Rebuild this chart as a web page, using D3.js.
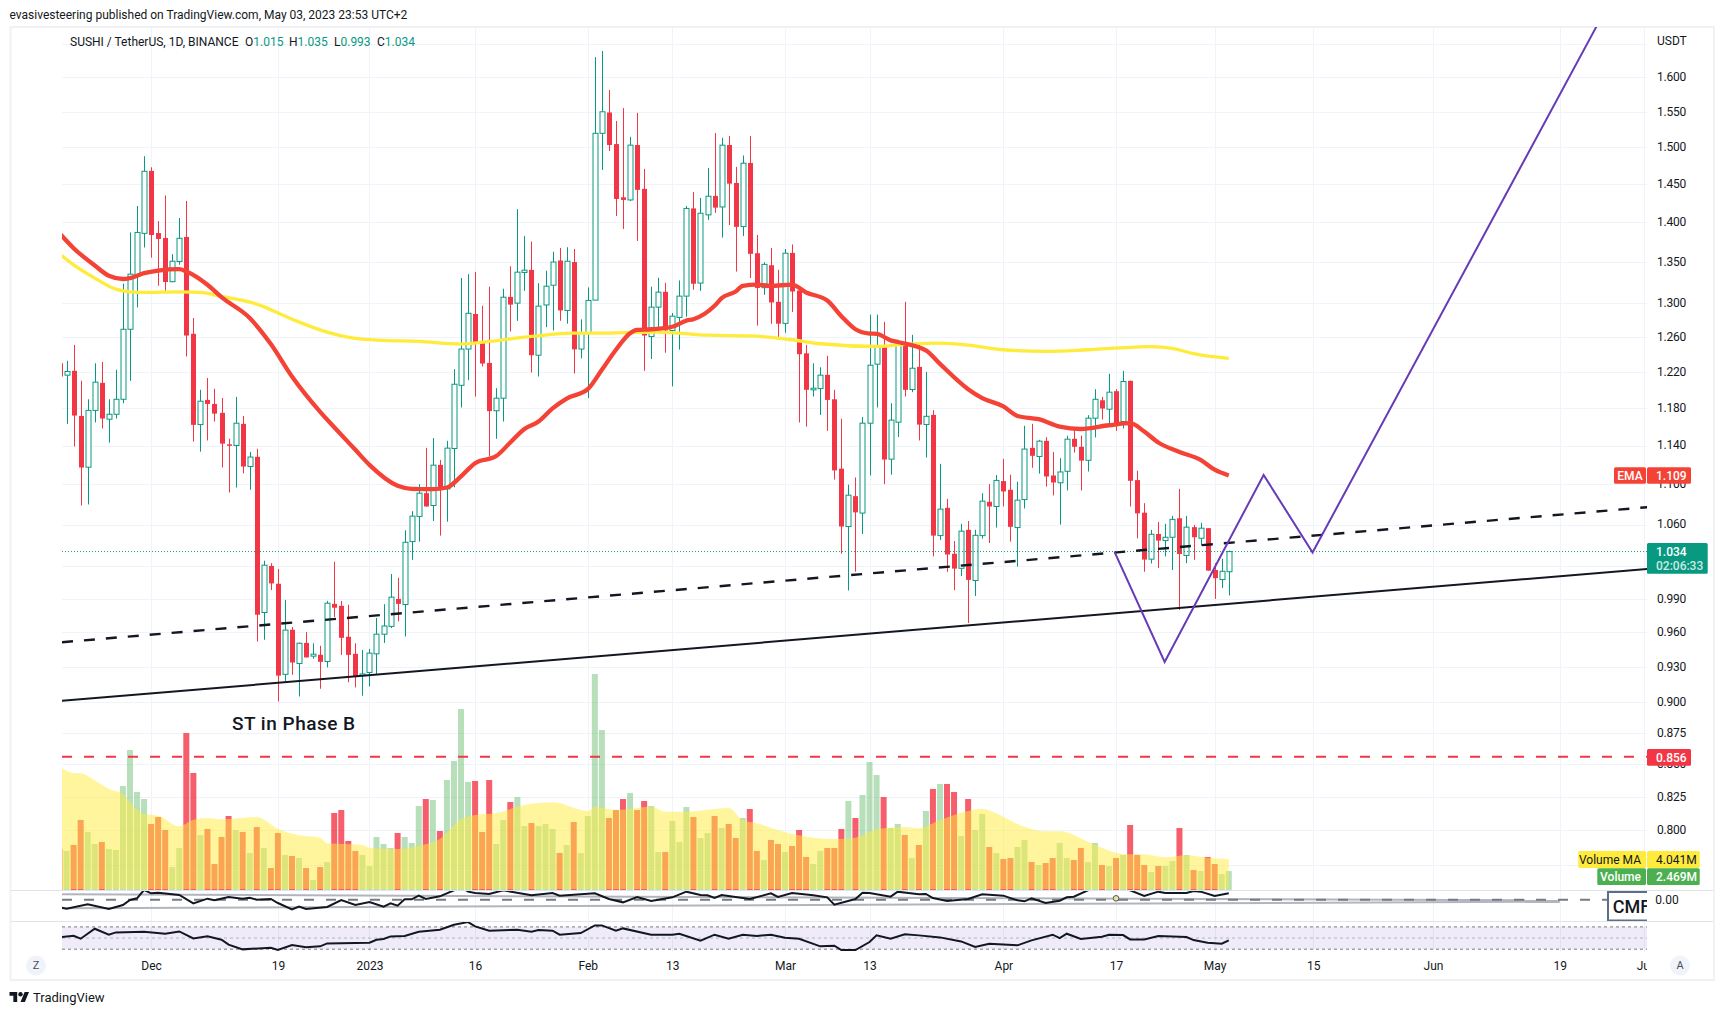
<!DOCTYPE html>
<html><head><meta charset="utf-8">
<script src="https://cdnjs.cloudflare.com/ajax/libs/d3/7.8.5/d3.min.js"></script>
<style>html,body{margin:0;padding:0;background:#fff}svg{display:block}text{font-family:Roboto,sans-serif}</style>
</head><body><svg id="c" width="1723" height="1015"></svg>
<script>
// ---- values (first candle is 13 days before 1 Dec 2022) ----
const firstDay=-13;
const opens=[1.2297,1.2163,1.2212,1.1715,1.1175,1.1775,1.2077,1.1680,1.1733,1.1896,
1.2688,1.3340,1.3859,1.4679,1.3863,1.3800,1.3256,1.3504,1.3813,1.2635,
1.1622,1.1889,1.1845,1.1748,1.1413,1.1400,1.1630,1.1182,1.1283,0.9776,
1.0204,1.0038,0.9235,0.9622,0.9328,0.9506,0.9391,0.9403,0.9345,0.9854,
0.9836,0.9560,0.9411,0.9227,0.9251,0.9411,0.9583,0.9652,0.9899,0.9848,
1.0435,1.0680,1.0911,1.0788,1.1199,1.0954,1.1369,1.2050,1.2459,1.2868,
1.2544,1.2301,1.1771,1.1908,1.3072,1.2997,1.3369,1.3401,1.2388,1.2975,
1.3213,1.3517,1.2910,1.3498,1.2459,1.2642,1.3033,1.5196,1.5490,1.5046,
1.4327,1.4292,1.5033,1.4438,1.2603,1.2949,1.3133,1.2674,1.2827,1.3081,
1.4181,1.3239,1.4097,1.4345,1.4200,1.5033,1.4517,1.3946,1.4787,1.3608,
1.3183,1.3458,1.3013,1.2757,1.3612,1.3149,1.2410,1.2000,1.2014,1.2167,
1.1896,1.1160,1.0581,1.0881,1.0713,1.1637,1.2287,1.2478,1.1258,1.1648,
1.2527,1.2004,1.2256,1.1622,1.1726,1.0493,1.0765,1.0319,1.0182,1.0549,
1.0068,1.0493,1.0825,1.0778,1.1033,1.0945,1.0571,1.0847,1.1376,1.1286,
1.1449,1.1090,1.1016,1.1133,1.1471,1.1387,1.1246,1.1691,1.1885,1.1788,
1.1985,1.1655,1.2100,1.1043,1.0717,1.0268,1.0509,1.0445,1.0477,1.0662,
1.0303,1.0575,1.0467,1.0565,1.0166,1.0077,1.015];
const highs=[1.2297,1.2325,1.2507,1.2100,1.1896,1.2297,1.2312,1.1896,1.2223,1.3232,
1.3871,1.4213,1.4879,1.4728,1.4017,1.4351,1.3596,1.4056,1.4279,1.2820,
1.2000,1.2132,1.2011,1.1911,1.1471,1.1922,1.1715,1.1333,1.1366,1.0253,
1.0230,1.0176,0.9890,0.9646,0.9509,0.9601,0.9503,0.9481,0.9881,1.0243,
0.9881,0.9846,0.9503,0.9445,0.9453,0.9727,0.9851,1.0128,1.0093,1.0545,
1.0732,1.1002,1.1376,1.1478,1.1250,1.1449,1.2230,1.3302,1.3348,1.3376,
1.2965,1.3195,1.2018,1.3170,1.3446,1.4171,1.3824,1.3755,1.3237,1.3390,
1.3627,1.3674,1.3683,1.3661,1.2804,1.3187,1.6300,1.6392,1.5813,1.5370,
1.5553,1.5147,1.5485,1.4706,1.3195,1.3303,1.3241,1.2880,1.3271,1.4213,
1.4398,1.4318,1.4719,1.5200,1.5133,1.5158,1.4733,1.4889,1.5158,1.3838,
1.3495,1.3674,1.3401,1.3661,1.3718,1.3149,1.2507,1.2297,1.2252,1.2382,
1.2000,1.1684,1.0997,1.1070,1.1704,1.2860,1.2860,1.2775,1.1853,1.2566,
1.3012,1.2623,1.2527,1.2200,1.1778,1.1210,1.0854,1.0441,1.0608,1.0635,
1.0549,1.0911,1.1002,1.1095,1.1261,1.1098,1.1026,1.1609,1.1630,1.1460,
1.1489,1.1333,1.1268,1.1503,1.1565,1.1505,1.1723,1.2007,1.1922,1.2178,
1.2007,1.2212,1.2100,1.1138,1.0811,1.0549,1.0625,1.0608,1.0685,1.0954,
1.0685,1.0597,1.0618,1.0565,1.0230,1.0272,1.035];
const lows=[1.2148,1.1630,1.1390,1.0789,1.0798,1.1645,1.1580,1.1431,1.1687,1.1853,
1.2100,1.2945,1.3680,1.3552,1.3206,1.3145,1.3250,1.3464,1.2374,1.1442,
1.1336,1.1453,1.1655,1.1172,1.0918,1.0968,1.1112,1.0945,0.9519,0.9534,
0.9980,0.9007,0.9176,0.9232,0.9049,0.9380,0.9369,0.9113,0.9294,0.9736,
0.9402,0.9168,0.9124,0.9055,0.9133,0.9232,0.9506,0.9637,0.9697,0.9563,
1.0262,1.0435,1.0778,1.0635,1.0493,1.0628,1.0970,1.1806,1.2107,1.1926,
1.2260,1.1286,1.1471,1.1655,1.2662,1.2787,1.3145,1.2193,1.2148,1.2712,
1.2674,1.2787,1.2753,1.2182,1.2352,1.1908,1.3033,1.4692,1.4950,1.4083,
1.3915,1.4279,1.3762,1.2212,1.2345,1.2674,1.2417,1.2038,1.2452,1.2835,
1.3158,1.3145,1.4032,1.4122,1.3805,1.3965,1.3380,1.3824,1.3302,1.2730,
1.3097,1.2753,1.2590,1.2647,1.2892,1.1645,1.1600,1.1926,1.1726,1.1555,
1.1048,1.0319,0.9976,1.0150,1.0509,1.1090,1.1806,1.1002,1.1098,1.1489,
1.1926,1.1974,1.1453,1.1276,1.0294,1.0451,1.0150,0.9980,1.0110,0.9682,
0.9926,1.0464,1.0422,1.0571,1.0778,1.0435,1.0198,1.0758,1.1169,1.1109,
1.0977,1.0888,1.0600,1.0938,1.1326,1.0938,1.1131,1.1485,1.1676,1.1619,
1.1555,1.1580,1.0778,1.0467,1.0150,1.0227,1.0185,1.0294,1.0166,0.9798,
1.0230,1.0262,1.0396,1.0160,0.9899,0.9999,0.993];
const closes=[1.2148,1.2204,1.1719,1.1172,1.1775,1.2085,1.1687,1.1733,1.1896,1.2688,
1.3348,1.3871,1.4674,1.3838,1.3788,1.3252,1.3508,1.3796,1.2615,1.1619,
1.1875,1.1845,1.1740,1.1420,1.1400,1.1637,1.1182,1.1280,0.9756,1.0211,
1.0041,0.9224,0.9619,0.9336,0.9503,0.9380,0.9408,0.9342,0.9860,0.9819,
0.9551,0.9402,0.9218,0.9238,0.9417,0.9583,0.9655,0.9915,0.9854,1.0429,
1.0683,1.0911,1.0778,1.1196,1.0954,1.1373,1.2062,1.2459,1.2876,1.2527,
1.2294,1.1767,1.1908,1.3068,1.2979,1.3373,1.3397,1.2388,1.2961,1.3201,
1.3498,1.2910,1.3508,1.2455,1.2642,1.3029,1.5196,1.5500,1.5033,1.4305,
1.4292,1.5031,1.4425,1.2615,1.2949,1.3129,1.2674,1.2842,1.3081,1.4181,
1.3231,1.4118,1.4341,1.4191,1.5031,1.4508,1.3942,1.4783,1.3600,1.3180,
1.3469,1.3005,1.2753,1.3608,1.3137,1.2400,1.2000,1.2018,1.2163,1.1889,
1.1142,1.0581,1.0891,1.0720,1.1637,1.2275,1.2486,1.1254,1.1670,1.2527,
1.2000,1.2241,1.1622,1.1711,1.0493,1.0752,1.0312,1.0179,1.0536,1.0074,
1.0496,1.0831,1.0778,1.1040,1.0928,1.0578,1.0841,1.1363,1.1293,1.1446,
1.1080,1.1019,1.1126,1.1467,1.1387,1.1243,1.1691,1.1896,1.1795,1.1974,
1.1608,1.2092,1.1036,1.0710,1.0264,1.0506,1.0445,1.0477,1.0651,1.0316,
1.0575,1.0477,1.0565,1.0160,1.0090,1.0154,1.034];
const volumes=[5.34,5.08,5.86,9.11,7.55,5.99,6.25,5.34,5.21,13.54,
18.22,12.76,11.84,8.59,9.5,7.81,2.99,5.47,20.43,15.23,
7.16,7.94,3.38,6.9,9.63,7.81,7.55,4.82,8.2,5.47,
2.86,7.42,4.56,4.43,4.16,2.86,1.3,2.99,3.64,10.02,
10.41,6.38,5.08,4.56,3.12,6.9,5.99,5.47,7.42,6.9,
6.12,10.93,11.84,11.71,7.68,14.32,16.79,23.56,14.06,14.19,
7.55,14.32,5.99,9.11,11.45,12.1,8.33,8.72,8.33,8.59,
7.94,4.82,5.86,8.85,4.82,9.63,28.11,20.82,9.37,10.41,
11.84,12.62,10.41,11.58,10.93,4.95,4.95,8.98,6.25,10.8,
9.5,6.77,7.42,9.63,8.07,8.59,6.77,9.37,10.54,5.08,
3.9,6.51,5.99,4.95,5.73,7.81,4.3,3.38,5.08,5.47,
5.47,7.94,11.58,9.37,12.36,16.66,14.97,12.1,8.07,8.59,
7.16,4.16,5.86,10.28,13.15,13.8,13.8,12.76,7.03,11.84,
7.81,9.89,5.6,4.82,4.03,4.16,5.6,6.51,3.64,3.25,
3.51,4.16,6.12,4.16,3.9,5.47,3.64,6.12,3.25,3.12,
4.16,4.56,8.46,4.56,3.25,2.34,3.12,3.12,3.77,8.07,
4.56,2.6,2.47,4.3,3.38,2.08,2.469];
const emaDays=[-13,-11,-8,-6,-4,-3,-1,1,4,5,8,10,14,17,20,24,26,29,31,35,37,40,42,44,46,49,51,53,55,57,59,62,64,66,68,69,71,74,76,77,80,81,83,84,86,88,91,93,96,98,100,102,103,105,106,110,112,116,118,121,123,126,129,132,136,139,141,143,146,149,151,153];
const emaValues=[1.3859,1.3671,1.3455,1.3328,1.3289,1.3300,1.3360,1.3393,1.3410,1.3381,1.3219,1.3068,1.2820,1.2516,1.2148,1.1759,1.1594,1.1355,1.1199,1.0986,1.0955,1.0951,1.0968,1.1081,1.1216,1.1290,1.1432,1.1575,1.1655,1.1797,1.1904,1.2007,1.2223,1.2451,1.2642,1.2681,1.2688,1.2717,1.2790,1.2806,1.2965,1.3056,1.3137,1.3206,1.3219,1.3206,1.3219,1.3125,1.3029,1.2842,1.2688,1.2638,1.2635,1.2559,1.2540,1.2444,1.2290,1.2007,1.1908,1.1818,1.1715,1.1680,1.1600,1.1575,1.1615,1.1637,1.1548,1.1432,1.1333,1.1250,1.1149,1.109];
const smaDays=[-13,-11,-8,-5,-3,-1,4,7,10,15,20,25,29,33,38,44,48,54,60,63,72,75,79,85,91,95,103,107,112,116,121,127,133,139,142,145,148,153];
const smaValues=[1.3600,1.3463,1.3300,1.3165,1.3133,1.3125,1.3133,1.3125,1.3077,1.2985,1.2806,1.2654,1.2581,1.2559,1.2547,1.2516,1.2547,1.2604,1.2642,1.2642,1.2654,1.2642,1.2619,1.2611,1.2566,1.2520,1.2489,1.2512,1.2527,1.2505,1.2451,1.2432,1.2451,1.2478,1.2486,1.2467,1.2406,1.2352];
const volMaDays=[-13,-11,-10,-8,-6,-4,-3,-1,1,4,6,8,10,15,18,21,24,25,30,31,35,38,41,44,46,49,53,57,62,63,66,71,73,76,82,84,86,91,97,100,103,107,109,112,116,118,120,123,127,129,133,137,139,141,144,147,150,153];
const volMaValues=[16.05,15.23,15.18,14.27,13.15,12.54,11.41,9.89,9.67,8.29,9.15,9.37,9.2,9.5,7.98,7.12,6.81,6.07,5.86,5.51,5.34,5.77,6.64,9.2,9.76,10.02,11.06,11.41,10.28,10.85,10.41,10.85,10.2,10.2,10.67,9.11,8.68,7.29,6.64,6.81,7.9,8.2,8.03,9.11,10.28,10.59,9.98,8.59,7.64,7.64,6.29,4.86,4.64,4.64,4.25,4.51,4.21,4.041];
const cmfDays=[-13,-12,-9,-6,-4,-3,-2,-1,0,1,4,6,8,9,11,13,14,15,17,18,20,21,22,25,27,29,31,33,34,35,36,37,38,39,41,43,44,45,46,48,50,54,57,58,62,63,65,67,69,71,74,76,78,79,80,81,85,88,89,91,94,96,97,100,101,102,105,106,109,110,111,113,116,118,121,123,124,125,127,129,130,131,133,136,139,141,143,144,147,148,149,151,153];
const cmfValues=[-.115,-.135,-.07,-.14,-.08,-.005,.02,.145,.095,.105,.07,-.055,.015,-.01,.04,.015,.03,0,.01,-.05,-.145,-.105,-.14,-.11,-.005,-.08,-.035,-.105,-.055,-.09,.005,.005,.06,.01,.05,.14,.195,.12,.10,.085,.14,.065,.10,.06,.09,.095,.01,-.04,.04,-.02,.035,.12,.07,.065,.025,.07,.01,.095,.04,.10,.065,.035,-.075,.01,.105,.10,.045,.12,.08,.085,.025,-.02,.01,.08,.06,-.01,-.025,.02,-.05,-.015,.035,.045,.14,.245,.14,.055,.12,.10,.10,.13,.12,.055,.095];
const cmfUpper=[[-13,.08],[200,-.01]];
const cmfLower=[[-13,-.13],[200,-.03]];
const rsiDays=[-13,-11,-10,-8,-6,-5,-1,2,4,6,8,10,11,13,17,18,20,22,24,25,29,31,32,33,34,36,38,41,43,45,46,48,52,54,55,57,58,61,63,64,66,67,71,74,75,78,80,82,84,86,88,90,92,95,97,98,100,102,103,105,107,109,112,115,117,119,123,125,128,129,130,132,135,136,138,139,141,143,147,148,150,152,153];
const rsiValues=[51.2,54.2,48.8,66.7,56,60.1,61.3,57.8,61.9,49.4,53,47,38.1,29.7,32.7,28.5,37.5,33.3,35.1,40.4,41,41.6,47,48.2,53,53.6,61.3,64.9,73.9,78.7,70.9,63.1,64.9,61.3,64.3,63.1,56,59,72.7,72.7,63.1,67.3,56,56,57.8,45.2,56,48.8,56,53.6,56,50.6,48.8,35.1,36.3,28.5,28.5,42.8,54.8,48.8,56.6,54.8,51.2,44,33.9,39.9,36.9,45.8,56,50,57.8,48.2,52.4,56,55.4,47.6,47.6,53.6,51.8,46.4,41.6,39.9,45.8];
const solidTrend=[[-12.65,.9013],[212.4,1.0176]];
const dashedTrend=[[-12.65,.9512],[212.4,1.0771]];
const purplePath=[[136.8,1.0334],[143.9,.9341],[157.95,1.1096],[164.9,1.0331],[205.2,1.6764]];
const lastPrice=1.034, emaLast=1.109, hLevel=.856, volMaLast='4.041M', volLast='2.469M';
const priceTicks=[1.6,1.55,1.5,1.45,1.4,1.35,1.3,1.26,1.22,1.18,1.14,1.1,1.06,.99,.96,.93,.9,.875,.85,.825,.8];
const gridExtra=[1.65,1.02,.775];
const timeTickDays=[0,18,31,46,62,74,90,102,121,137,151,165,182,200,212];
const timeTickLabels=['Dec','19','2023','16','Feb','13','Mar','13','Apr','17','May','15','Jun','19','Jul'];

// ---- layout ----
const L=62,R=1647,T=27,B=890,P2=921,P3=951;
const svg=d3.select('#c');
const x=d3.scaleLinear().domain([0,200]).range([151.1,1559.8]);
const y=d3.scaleLog().domain([1.6,.8]).range([77.3,830.3]);
const yVol=d3.scaleLinear().domain([0,20]).range([B,B-153.67]);
const yCmf=d3.scaleLinear().domain([0,.1]).range([899.67,893]);
const yRsi=d3.scaleLinear().domain([30,70]).range([949.2,926.9]);
const defs=svg.append('defs');
const clip=(id,a,b)=>defs.append('clipPath').attr('id',id).append('rect').attr('x',L).attr('y',a).attr('width',R-L).attr('height',b-a);
clip('cMain',T,B);clip('cCmf',B+1,P2);clip('cRsi',P2,P3+6);
const C={grid:'#f0f3fa',green:'#089981',red:'#f23645',text:'#131722',sep:'#e0e3eb'};

// frame
svg.append('rect').attr('x',10.5).attr('y',27).attr('width',1703.5).attr('height',953).attr('fill','#fff').attr('stroke','#f0f1f5').attr('stroke-width',2);
const grid=svg.append('g');
grid.selectAll('.h').data(priceTicks.concat(gridExtra)).join('line').attr('x1',L).attr('x2',R).attr('y1',d=>Math.round(y(d))+.5).attr('y2',d=>Math.round(y(d))+.5).attr('stroke',C.grid);
grid.selectAll('.v').data(timeTickDays).join('line').attr('x1',d=>Math.round(x(d))+.5).attr('x2',d=>Math.round(x(d))+.5).attr('y1',T).attr('y2',P3+1).attr('stroke',C.grid);

// volume
const main=svg.append('g').attr('clip-path','url(#cMain)');
const days=closes.map((_,i)=>firstDay+i);
main.append('g').selectAll('rect').data(days).join('rect')
 .attr('x',d=>x(d)-3).attr('width',6).attr('y',(d,i)=>yVol(volumes[i])).attr('height',(d,i)=>B-yVol(volumes[i]))
 .attr('fill',(d,i)=>closes[i]>=opens[i]?'#4caf50':'#f23645').attr('fill-opacity',(d,i)=>closes[i]>=opens[i]?.4:.8);
main.append('path').datum(volMaDays.map((d,i)=>[d,volMaValues[i]]))
 .attr('d',d3.area().x(d=>x(d[0])).y0(B-1).y1(d=>yVol(d[1])).curve(d3.curveMonotoneX))
 .attr('fill','#ffeb3b').attr('fill-opacity',.5);

// candles
const candles=main.append('g').selectAll('g').data(days).join('g');
const col=i=>closes[i]>=opens[i]?C.green:C.red;
candles.append('line').attr('x1',d=>Math.round(x(d))+.5).attr('x2',d=>Math.round(x(d))+.5)
 .attr('y1',(d,i)=>y(highs[i])).attr('y2',(d,i)=>y(lows[i])).attr('stroke',(d,i)=>col(i)).attr('stroke-width',1);
candles.append('rect').attr('x',d=>Math.round(x(d))-2+.0).attr('width',5)
 .attr('y',(d,i)=>y(Math.max(opens[i],closes[i]))).attr('height',(d,i)=>Math.max(1.5,Math.abs(y(opens[i])-y(closes[i]))))
 .attr('fill',(d,i)=>closes[i]>=opens[i]?'#fff':C.red).attr('stroke',(d,i)=>closes[i]>=opens[i]?C.green:'none').attr('stroke-width',1);

// price line, moving averages, drawings
const line=d3.line().x(d=>x(d[0])).y(d=>y(d[1]));
const smooth=d3.line().x(d=>x(d[0])).y(d=>y(d[1])).curve(d3.curveMonotoneX);
main.append('line').attr('x1',L).attr('x2',R).attr('y1',y(lastPrice)).attr('y2',y(lastPrice)).attr('stroke',C.green).attr('stroke-dasharray','1 2');
main.append('path').attr('d',smooth(smaDays.map((d,i)=>[d,smaValues[i]]))).attr('fill','none').attr('stroke','#ffeb3b').attr('stroke-width',3.3);
main.append('path').attr('d',smooth(emaDays.map((d,i)=>[d,emaValues[i]]))).attr('fill','none').attr('stroke','#f44336').attr('stroke-width',4.3);
main.append('path').attr('d',line(solidTrend)).attr('fill','none').attr('stroke',C.text).attr('stroke-width',2);
main.append('path').attr('d',line(dashedTrend)).attr('fill','none').attr('stroke',C.text).attr('stroke-width',2.4).attr('stroke-dasharray','11 11');
main.append('path').attr('d',line(purplePath)).attr('fill','none').attr('stroke','#673ab7').attr('stroke-width',2);
main.append('line').attr('x1',L).attr('x2',R).attr('y1',y(hLevel)).attr('y2',y(hLevel)).attr('stroke',C.red).attr('stroke-width',2).attr('stroke-dasharray','10 12');

// CMF pane
const cmf=svg.append('g').attr('clip-path','url(#cCmf)');
const cLine=d3.line().x(d=>x(d[0])).y(d=>yCmf(d[1]));
cmf.append('path').attr('d',cLine(cmfUpper)).attr('stroke','#b2b5be').attr('stroke-width',2).attr('fill','none');
cmf.append('path').attr('d',cLine(cmfLower)).attr('stroke','#b2b5be').attr('stroke-width',2).attr('fill','none');
cmf.append('line').attr('x1',L).attr('x2',R).attr('y1',yCmf(0)).attr('y2',yCmf(0)).attr('stroke','#787b86').attr('stroke-width',2).attr('stroke-dasharray','10 12');
cmf.append('path').attr('d',cLine(cmfDays.map((d,i)=>[d,cmfValues[i]]))).attr('stroke',C.text).attr('stroke-width',2).attr('fill','none');
cmf.append('circle').attr('cx',x(137)).attr('cy',yCmf(.02)).attr('r',2.8).attr('fill','#e6e2a8').attr('stroke','#555').attr('stroke-width',1);
cmf.append('rect').attr('x',1608).attr('y',892).attr('width',60).attr('height',28.5).attr('fill','#fff').attr('stroke','#5d7083').attr('stroke-width',2);
cmf.append('text').attr('x',1612.7).attr('y',906.3).attr('dy','.35em').attr('font-size',18).attr('font-weight',500).attr('font-family','Noto Sans').attr('fill',C.text).text('CMF');

// RSI pane
const rsi=svg.append('g').attr('clip-path','url(#cRsi)');
rsi.append('rect').attr('x',L).attr('width',R-L).attr('y',yRsi(70)).attr('height',yRsi(30)-yRsi(70)).attr('fill','#7e57c2').attr('fill-opacity',.12);
[[70,'#787b86'],[50,'#b2b5be'],[30,'#787b86']].forEach(([v,c])=>rsi.append('line').attr('x1',L).attr('x2',R).attr('y1',yRsi(v)).attr('y2',yRsi(v)).attr('stroke',c).attr('stroke-dasharray','3 3'));
rsi.append('path').attr('d',d3.line().x((d,i)=>x(d)).y((d,i)=>yRsi(rsiValues[i]))(rsiDays)).attr('stroke',C.text).attr('stroke-width',2).attr('fill','none');

// separators
[B,P2].forEach(v=>svg.append('line').attr('x1',11).attr('x2',1713).attr('y1',v+.5).attr('y2',v+.5).attr('stroke',C.sep));

// axes
const ya=svg.append('g').attr('transform',`translate(${R},-0.5)`).call(d3.axisRight(y).tickValues(priceTicks).tickSize(0).tickPadding(10).tickFormat(d3.format('.3f')));
ya.select('.domain').remove();ya.selectAll('text').attr('font-size',12).attr('font-family','Roboto').attr('letter-spacing','-.2px').attr('fill',C.text);
const xa=svg.append('g').attr('transform','translate(0,958)');
defs.append('clipPath').attr('id','cTime').append('rect').attr('x',L).attr('y',-10).attr('width',R-L).attr('height',30);
xa.attr('clip-path','url(#cTime)').call(d3.axisBottom(x).tickValues(timeTickDays).tickSize(0).tickPadding(3).tickFormat((d,i)=>timeTickLabels[i]));
xa.select('.domain').remove();xa.selectAll('text').attr('font-size',12).attr('font-family','Roboto').attr('fill',C.text);

// text helpers
const T0=(xx,yy,s,o={})=>svg.append('text').attr('x',xx).attr('y',yy).attr('dy','.35em').attr('font-size',o.size||12).attr('font-family',o.font||'Roboto').attr('font-weight',o.weight||400).attr('fill',o.fill||C.text).attr('fill-opacity',o.op||1).attr('text-anchor',o.anchor||'start').attr('letter-spacing',o.ls||null).text(s);
T0(9.5,15,'evasivesteering published on TradingView.com, May 03, 2023 23:53 UTC+2');
T0(70,41.7,'SUSHI / TetherUS, 1D, BINANCE');
[['O','1.015',245],['H','1.035',289],['L','0.993',334],['C','1.034',377]].forEach(([k,v,xx])=>{
 const t=T0(xx,41.7,k);t.append('tspan').attr('fill',C.green).text(v);});
T0(1657,40.7,'USDT');
T0(1655.3,899.7,'0.00');
T0(232,723,'ST in Phase B',{size:19,font:'Noto Sans',weight:500,ls:'.5px'});

// right labels
const box=(x0,x1,y0,y1,f)=>svg.append('rect').attr('x',x0).attr('y',y0).attr('width',x1-x0).attr('height',y1-y0).attr('fill',f).attr('rx',1.5);
box(1614,1646,467.3,483.7,'#f44336');box(1647,1691,467.3,483.7,'#f44336');
T0(1630,475.5,'EMA',{fill:'#fff',anchor:'middle',weight:500});T0(1656,475.5,d3.format('.3f')(emaLast),{fill:'#fff',weight:500});
box(1647,1707.7,543,573.7,C.green);
T0(1656,551.7,d3.format('.3f')(lastPrice),{fill:'#fff',weight:500});T0(1656,565.7,'02:06:33',{fill:'#fff',op:.8,weight:500});
box(1647,1691,749,765.7,C.red);T0(1656,757.3,d3.format('.3f')(hLevel),{fill:'#fff',weight:500});
box(1578.3,1646,851,868,'#ffeb3b');box(1647,1699.7,851,868,'#ffeb3b');
T0(1641,859.5,'Volume MA',{anchor:'end'});T0(1656,859.5,volMaLast);
box(1597.3,1646,868.3,885,'#4caf50');box(1647,1699.7,868.3,885,'#4caf50');
T0(1641,876.8,'Volume',{anchor:'end',fill:'#fff',weight:500});T0(1656,876.8,volLast,{fill:'#fff',weight:500});

// corner buttons
[[36,'Z'],[1680,'A']].forEach(([xx,s])=>{svg.append('circle').attr('cx',xx).attr('cy',965.5).attr('r',10).attr('fill','#f0f3fa');T0(xx,965.3,s,{anchor:'middle',size:11,fill:'#4a4e5a'});});

// footer logo and name
const logo=svg.append('g').attr('transform','translate(9.5,989.8) scale(.55)').attr('fill',C.text);
logo.append('path').attr('d','M14 22H7V11H0V4h14v18zM28 22h-8l7.5-18h8L28 22z');logo.append('circle').attr('cx',20).attr('cy',8).attr('r',4);
T0(33,997.7,'TradingView',{size:13});
</script></body></html>
